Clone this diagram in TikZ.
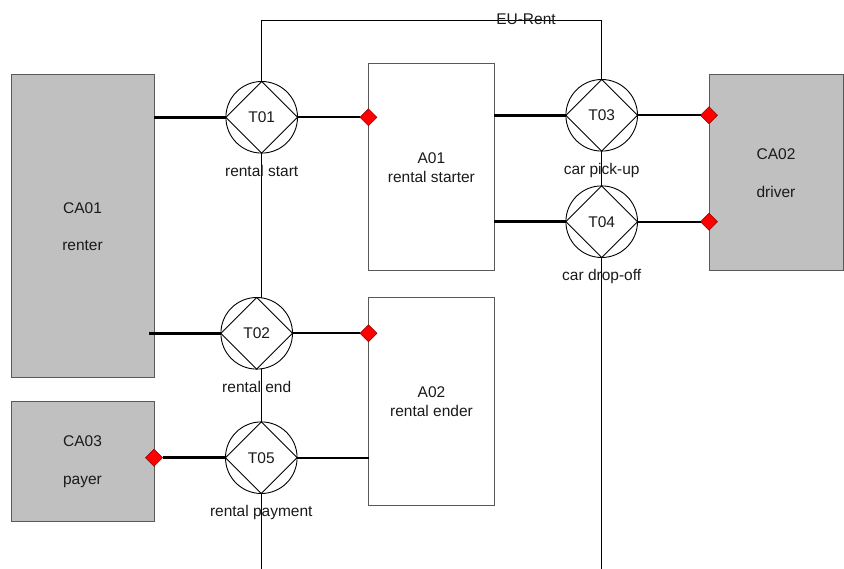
\documentclass[tikz,border=0pt]{standalone}
\usepackage{fontspec}
\setmainfont{Liberation Sans}
\usetikzlibrary{shapes.geometric,backgrounds}
\definecolor{actorgray}{HTML}{C0C0C0}
\definecolor{txt}{HTML}{1A1A1A}
\begin{document}
\begin{tikzpicture}[x=1pt,y=-1pt,
  every node/.style={font=\fontsize{15.5}{19}\selectfont, text=txt},
  actorbox/.style={draw=black!65, fill=actorgray, line width=1pt, rectangle, inner sep=0, outer sep=0, align=center},
  elembox/.style={draw=black!65, fill=white, line width=1pt, rectangle, inner sep=0, outer sep=0, align=center},
  trans/.style={circle, draw=black, fill=white, line width=0.9pt, minimum size=71.6pt, inner sep=0, outer sep=0},
  tdiamond/.style={draw=black, line width=0.9pt},
  tlabel/.style={inner sep=0, text height=11pt, text depth=3.5pt},
  reddot/.style={diamond, fill=red, draw=red!55!black, line width=0.5pt, minimum size=17pt, inner sep=0, outer sep=0},
  thickline/.style={line width=3pt, black},
  midline/.style={line width=2pt, black},
  thinline/.style={line width=0.9pt, black}
]
\useasboundingbox (0,0) rectangle (844,569);

% actor boxes
\node[actorbox, minimum width=143pt, minimum height=303pt] (ca01) at (82.5,226.5) {CA01\\[18.5pt]renter};
\node[actorbox, minimum width=134pt, minimum height=196pt] (ca02) at (776,173) {CA02\\[18.5pt]driver};
\node[actorbox, minimum width=143pt, minimum height=119pt] (ca03) at (82.5,461.5) {CA03\\[18.5pt]payer};

% elementary actor boxes
\node[elembox, minimum width=126pt, minimum height=207pt] (a01) at (431.4,167.5) {A01\\rental starter};
\node[elembox, minimum width=126pt, minimum height=207pt] (a02) at (431.5,401.5) {A02\\rental ender};

% transactions
\node[trans] (t1) at (261.7,117.3) {};
\node[trans] (t2) at (256.7,333.3) {};
\node[trans] (t3) at (601.7,115.3) {};
\node[trans] (t4) at (601.7,221.7) {};
\node[trans] (t5) at (261.3,457.7) {};
\foreach \t/\n in {t1/T01,t2/T02,t3/T03,t4/T04,t5/T05}{
  \draw[tdiamond] (\t.north) -- (\t.east) -- (\t.south) -- (\t.west) -- cycle;
  \node[inner sep=0] at (\t.center) {\n};
}

% transaction labels
\node[tlabel] (l1) at ([yshift=-55pt]t1.center) {rental start};
\node[tlabel] (l2) at ([yshift=-55.5pt]t2.center) {rental end};
\node[tlabel] (l3) at ([yshift=-55pt]t3.center) {car pick-up};
\node[tlabel] (l4) at ([yshift=-55pt]t4.center) {car drop-off};
\node[tlabel] (l5) at ([yshift=-55pt]t5.center) {rental payment};

% boundary frame
\coordinate (bl) at (261,569);
\coordinate (tl) at (261,20.7);
\coordinate (tr) at (601.7,20.7);
\coordinate (br) at (601.7,569);
\begin{pgfonlayer}{background}
\draw[thinline] (bl) -- (tl) -- (tr) -- (br);
\end{pgfonlayer}
\node[tlabel] (eu) at (526,21) {EU-Rent};

% red diamonds
\node[reddot] (d1) at (a01.west |- t1.center) {};
\node[reddot] (d2) at (a02.west |- t2.center) {};
\node[reddot] (d3) at (ca02.west |- t3.center) {};
\node[reddot] (d4) at (ca02.west |- t4.center) {};
\node[reddot] (d5) at (ca03.east |- t5.center) {};

% connectors
\draw[thickline] (ca01.east |- t1.center) -- (t1.west);
\draw[thickline] ([xshift=-5pt]ca01.east |- t2.center) -- (t2.west);
\draw[thickline] (d5.east) -- (t5.west);
\draw[thickline] (a01.east |- t3.center) -- (t3.west);
\draw[thickline] (a01.east |- t4.center) -- (t4.west);

\draw[midline] (t1.east) -- (d1.west);
\draw[midline] (t2.east) -- (d2.west);
\draw[midline] (t5.east) -- (a02.west |- t5.center);
\draw[midline] (t3.east) -- (d3.west);
\draw[midline] (t4.east) -- (d4.west);
\end{tikzpicture}
\end{document}
